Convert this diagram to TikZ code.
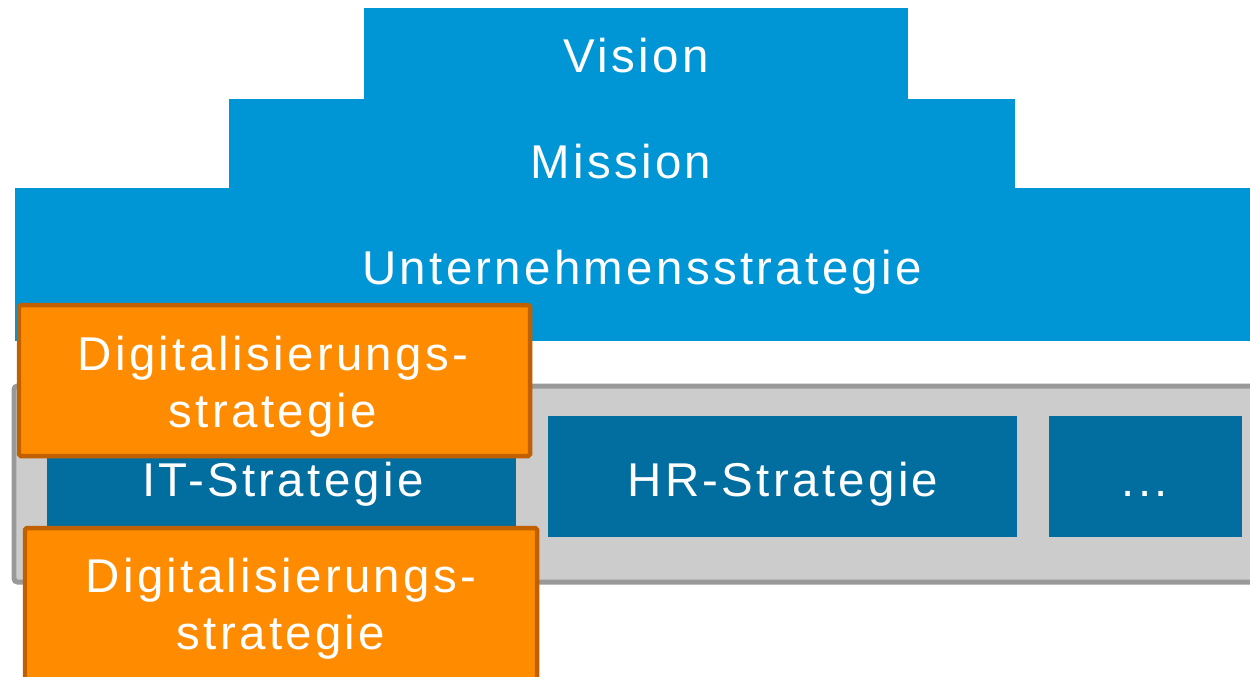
\documentclass[tikz,border=0pt]{standalone}
\usepackage{fontspec}
\setmainfont[LetterSpace=7]{Liberation Sans}
\definecolor{visionblue}{RGB}{0,149,213}
\definecolor{unitblue}{RGB}{2,110,160}
\definecolor{digiorange}{RGB}{255,140,0}
\definecolor{digiborder}{RGB}{192,96,0}
\definecolor{panelgray}{RGB}{204,204,204}
\definecolor{panelborder}{RGB}{153,153,153}
\tikzset{
  lbl/.style={text=white,font=\fontsize{27}{32.4}\selectfont,align=center,inner sep=0pt},
  digibox/.style={fill=digiorange,draw=digiborder,line width=0.09cm,rounded corners=1pt}
}

\begin{document}
\begin{tikzpicture}[x=0.02cm,y=-0.02cm]
            \clip (0,0) rectangle (1250,676);
            \fill[white] (0,0) rectangle (1250,676);
            % pyramid
            \fill[visionblue] (364,8) rectangle (908,99);
            \fill[visionblue] (229,99) rectangle (1015,188);
            \fill[visionblue] (15,188) rectangle (1250,341);
            \node[lbl,anchor=base] (vision) at (636,72) {Vision};
            \node[lbl,anchor=base] (mission) at (621,178) {Mission};
            \node[lbl,anchor=base] (unternehmen) at (642,284) {Unternehmensstrategie};
            % functional strategies
            \draw[fill=panelgray,draw=panelborder,line width=0.1cm,rounded corners=2pt] (14,386) rectangle (1270,582);
            \fill[unitblue] (47,416) rectangle (516,537);
            \fill[unitblue] (548,416) rectangle (1017,537);
            \fill[unitblue] (1049,416) rectangle (1242,537);
            \node[lbl,anchor=base] (it) at (283,496) {IT-Strategie};
            \node[lbl,anchor=base] (hr) at (783,496) {HR-Strategie};
            \node[lbl,anchor=base] (more) at (1145,496) {...};
            % digitalisation
            \draw[digibox] (19,305) rectangle (530,456);
            \node[lbl] (digitop) at (273,387) {Digitalisierungs-\\strategie};
            \draw[digibox] (25,528) rectangle (537,690);
            \node[lbl] (digibottom) at (281,609) {Digitalisierungs-\\strategie};
\end{tikzpicture}
\end{document}
